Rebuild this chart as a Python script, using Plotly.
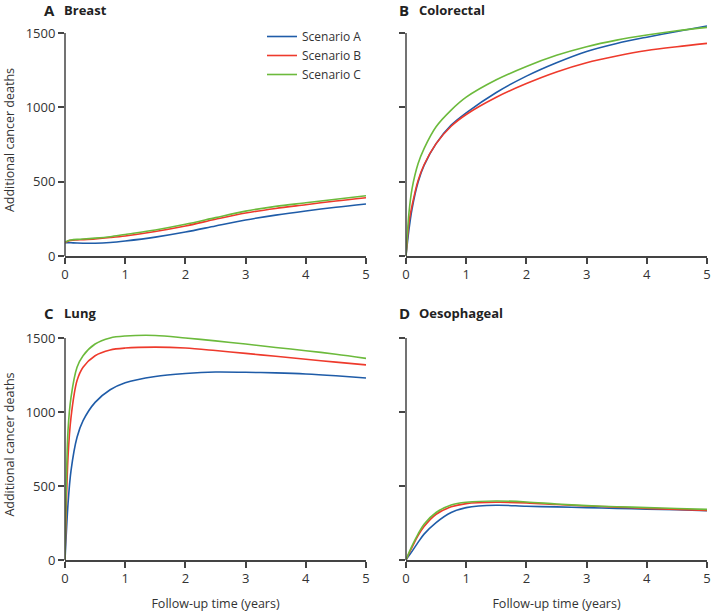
import plotly.graph_objects as go

T = [0, 0.05, 0.1, 0.2, 0.3, 0.5, 0.75, 1, 1.5, 2, 2.5, 3, 3.5, 4, 4.5, 5]
scenarios = ["Scenario A", "Scenario B", "Scenario C"]
colors = ["#1f5ca8", "#ee3a2c", "#6cba3c"]

breast_a = [90, 90, 89, 87, 86, 86, 91, 101, 127, 161, 202, 242, 275, 303, 328, 350]
breast_b = [90, 100, 105, 108, 110, 115, 124, 135, 165, 202, 247, 289, 320, 345, 370, 392]
breast_c = [92, 103, 108, 112, 114, 120, 130, 145, 175, 213, 258, 302, 334, 358, 382, 405]

colorectal_a = [0, 180, 316, 496, 609, 756, 880, 963, 1100, 1210, 1300, 1376, 1430, 1472, 1510, 1547]
colorectal_b = [0, 226, 338, 507, 614, 756, 873, 952, 1068, 1160, 1238, 1300, 1345, 1382, 1408, 1430]
colorectal_c = [0, 293, 451, 620, 722, 869, 981, 1068, 1185, 1275, 1350, 1408, 1452, 1486, 1515, 1538]

lung_a = [0, 378, 604, 829, 941, 1065, 1150, 1198, 1240, 1260, 1270, 1268, 1264, 1257, 1245, 1230]
lung_b = [0, 694, 964, 1212, 1302, 1380, 1419, 1432, 1438, 1432, 1415, 1396, 1376, 1356, 1337, 1318]
lung_c = [0, 874, 1099, 1302, 1380, 1459, 1500, 1513, 1517, 1500, 1480, 1459, 1436, 1414, 1390, 1362]

oeso_a = [0, 30, 58, 119, 175, 253, 321, 354, 370, 363, 359, 354, 349, 344, 339, 333]
oeso_b = [0, 45, 85, 164, 226, 309, 359, 381, 390, 386, 375, 365, 357, 349, 342, 335]
oeso_c = [0, 50, 96, 175, 242, 321, 372, 390, 399, 392, 378, 367, 360, 354, 348, 342]

panels = [
    ("A", "Breast", [breast_a, breast_b, breast_c]),
    ("B", "Colorectal", [colorectal_a, colorectal_b, colorectal_c]),
    ("C", "Lung", [lung_a, lung_b, lung_c]),
    ("D", "Oesophageal", [oeso_a, oeso_b, oeso_c]),
]

W, H = 711, 612
YMAX = 1560
xdoms = [[65 / W, 366 / W], [406 / W, 707 / W]]
top_pad = 223 * (YMAX - 1500) / 1500
ydoms = [[(H - 256) / H, (H - 33 + top_pad) / H], [(H - 560) / H, (H - 338 + top_pad) / H]]

FONT = "Open Sans"
AXC = "#444444"
fig = go.Figure()
layout = dict(width=W, height=H, margin=dict(l=0, r=0, t=0, b=0, autoexpand=False),
              plot_bgcolor="white", paper_bgcolor="white",
              font=dict(family=FONT, color="#333333", size=13))
annotations = []
shapes = []
for i, (letter, name, series) in enumerate(panels):
    r, c = divmod(i, 2)
    n = "" if i == 0 else str(i + 1)
    for j, vals in enumerate(series):
        fig.add_trace(go.Scatter(
            x=T, y=vals, mode="lines", name=scenarios[j],
            line=dict(color=colors[j], width=1.6, shape="spline", smoothing=0.9),
            xaxis="x" + n, yaxis="y" + n, showlegend=(i == 0)))
    ax = dict(domain=xdoms[c], range=[0, 5], tickvals=[0, 1, 2, 3, 4, 5],
              showline=True, linecolor=AXC, linewidth=1.5, ticks="outside",
              ticklen=6, tickcolor=AXC, tickwidth=1.5, showgrid=False, zeroline=False,
              anchor="y" + n, automargin=False, tickfont=dict(size=13, color="#333333"))
    ay = dict(domain=ydoms[r], range=[0, YMAX], tickvals=[0, 500, 1000, 1500],
              showline=False, ticks="outside",
              ticklen=6, tickcolor=AXC, tickwidth=1.5, showgrid=False, zeroline=False,
              anchor="x" + n, automargin=False, showticklabels=(c == 0),
              tickfont=dict(size=13, color="#333333"))
    if r == 1:
        ax["title"] = dict(text="Follow-up time (years)", font=dict(size=12.5, color="#333333"), standoff=14)
    if c == 0:
        ay["title"] = dict(text="Additional cancer deaths", font=dict(size=12.5, color="#333333"), standoff=8)
    layout["xaxis" + n] = ax
    layout["yaxis" + n] = ay
    # y axis line only up to the top tick
    shapes.append(dict(type="line", xref="x" + n + " domain", yref="y" + n, x0=0, x1=0, y0=0, y1=1500,
                       line=dict(color=AXC, width=1.5)))
    # panel titles
    lx = [43, 398][c]
    ty = [10, 313][r]
    annotations.append(dict(text="<b>" + letter + "</b>", x=lx / W, y=1 - ty / H, xref="paper", yref="paper",
                            xanchor="left", yanchor="middle", showarrow=False, borderpad=0,
                            font=dict(size=15, color="#222222", family=FONT)))
    annotations.append(dict(text="<b>" + name + "</b>", x=(lx + 20) / W, y=1 - ty / H, xref="paper", yref="paper",
                            xanchor="left", yanchor="middle", showarrow=False, borderpad=0,
                            font=dict(size=13, color="#222222", family=FONT)))
layout["annotations"] = annotations
layout["shapes"] = shapes
layout["legend"] = dict(x=262 / W, y=1 - 22 / H, xanchor="left", yanchor="top", bgcolor="rgba(0,0,0,0)",
                        font=dict(size=12, color="#333333"), tracegroupgap=0, itemwidth=30)
fig.update_layout(**layout)
fig.write_html("out.html", config={"displayModeBar": False},
               post_script="document.body.style.margin='0px';document.body.style.overflow='hidden';")
